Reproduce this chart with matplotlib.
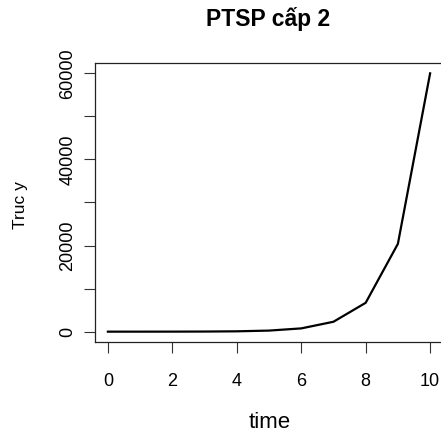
import matplotlib
matplotlib.use("Agg")
import matplotlib.pyplot as plt
from matplotlib import font_manager

time = [0, 1, 2, 3, 4, 5, 6, 7, 8, 9, 10]
values = [1, 3, 9, 27, 82, 250, 760, 2300, 6700, 20400, 60000]
xticks = [0, 2, 4, 6, 8, 10]
yticks = [0, 10000, 20000, 30000, 40000, 50000, 60000]
ytick_labels = ["0", "", "20000", "", "40000", "", "60000"]

plt.rcParams['font.family'] = ['Liberation Sans', 'DejaVu Sans']
names = {f.name for f in font_manager.fontManager.ttflist}
if 'Liberation Sans Narrow' in names:
    tick_font = ['Liberation Sans Narrow', 'DejaVu Sans']
    tick_size = 15
    ylab_size = 14.5
else:
    tick_font = ['Liberation Sans', 'DejaVu Sans']
    tick_size = 13
    ylab_size = 12.5

W, H = 441, 432
fig = plt.figure(figsize=(W / 100, H / 100), dpi=100)
left, right, top, bottom = 95, 443, 63, 342
ax = fig.add_axes([left / W, 1 - bottom / H, (right - left) / W, (bottom - top) / H])

ax.plot(time, values, color="black", lw=1.6)
ymax = max(values)
ax.set_xlim(-0.4, 10.4)
ax.set_ylim(-0.04 * ymax, 1.04 * ymax)
ax.set_xticks(xticks)
ax.set_xticklabels([str(t) for t in xticks])
ax.set_yticks(yticks)
ax.set_yticklabels(ytick_labels, rotation=90, va="center")
ax.tick_params(axis="both", length=8, width=0.8, color="#333333", labelsize=tick_size)
ax.tick_params(axis="x", pad=14.5)
ax.tick_params(axis="y", pad=5.5)
for lab in ax.get_xticklabels() + ax.get_yticklabels():
    lab.set_family(tick_font)
for s in ax.spines.values():
    s.set_linewidth(0.9)
    s.set_color("#222222")

fig.text(268 / W, 1 - 19 / H, "PTSP cấp 2", ha="center", va="center", fontsize=16.5, fontweight="bold")
fig.text(270 / W, 1 - 422 / H, "time", ha="center", va="center", fontsize=16)
fig.text(20 / W, 1 - 205 / H, "Truc y", ha="center", va="center", rotation=90, fontsize=ylab_size, family=tick_font)

fig.savefig("out.png", dpi=100)
